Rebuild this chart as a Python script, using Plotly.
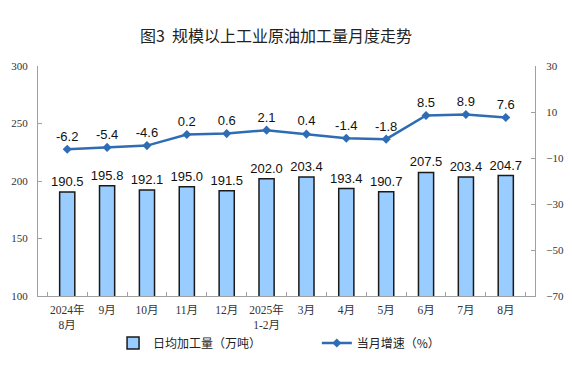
import plotly.graph_objects as go

categories = ["2024年<br>8月", "9月", "10月", "11月", "12月", "2025年<br>1-2月",
              "3月", "4月", "5月", "6月", "7月", "8月"]
daily_output = [190.5, 195.8, 192.1, 195.0, 191.5, 202.0, 203.4, 193.4, 190.7, 207.5, 203.4, 204.7]
growth = [-6.2, -5.4, -4.6, 0.2, 0.6, 2.1, 0.4, -1.4, -1.8, 8.5, 8.9, 7.6]

# page body has an 8px margin, so the figure is sized/positioned to compensate
W, H, OFF = 564, 358, 8

fig = go.Figure()
fig.add_trace(go.Bar(
    x=categories, y=daily_output, name="日均加工量（万吨）",
    marker=dict(color="#99CCFF", line=dict(color="#1a1a1a", width=1.5)),
    width=0.38,
    text=[f"{v:.1f}" for v in daily_output], textposition="outside",
    constraintext="none",
    textfont=dict(family="Liberation Sans, Arial", size=13, color="#111"),
    cliponaxis=False, legend="legend",
))
fig.add_trace(go.Scatter(
    x=categories, y=growth, name="当月增速（%）", yaxis="y2",
    mode="lines+markers+text",
    line=dict(color="#2E6DB4", width=2.5),
    marker=dict(symbol="diamond", size=7, color="#2E6DB4"),
    text=[f"{v:.1f}" for v in growth], textposition="top center",
    textfont=dict(family="Liberation Sans, Arial", size=13, color="#111"),
    cliponaxis=False, legend="legend2",
))

tickfont = dict(family="Liberation Serif, Noto Sans CJK SC", size=11.5, color="#333")
ytickfont = dict(family="Liberation Serif", size=11, color="#333")
legfont = dict(family="Noto Sans CJK SC", size=12, color="#222")
fig.update_layout(
    width=W, height=H,
    margin=dict(l=38 - OFF, r=37, t=66 - OFF, b=70, autoexpand=False),
    plot_bgcolor="white", paper_bgcolor="white",
    title=dict(text="图3  规模以上工业原油加工量月度走势", x=(276 - OFF) / W, xanchor="center",
               xref="container", yref="container",
               y=1 - (31 - OFF) / H, yanchor="top",
               font=dict(family="Noto Sans CJK SC", size=16, color="#222")),
    xaxis=dict(showline=True, linecolor="#A0A0A0", linewidth=1, automargin=False,
               ticks="inside", ticklen=4, tickcolor="#A0A0A0", tickson="boundaries",
               ticklabelstandoff=3,
               tickangle=0, tickfont=tickfont, showgrid=False),
    yaxis=dict(range=[100, 300], tickvals=[100, 150, 200, 250, 300], automargin=False,
               showline=True, linecolor="#A0A0A0", ticks="inside", ticklen=4,
               ticklabelstandoff=7,
               tickcolor="#A0A0A0", tickfont=ytickfont, showgrid=False, zeroline=False),
    yaxis2=dict(range=[-70, 30], tickvals=[-70, -50, -30, -10, 10, 30], automargin=False,
                overlaying="y", side="right",
                showline=True, linecolor="#A0A0A0", ticks="inside", ticklen=4,
                ticklabelstandoff=8,
                tickcolor="#A0A0A0", tickfont=ytickfont, showgrid=False, zeroline=False),
    legend=dict(orientation="h", x=0.151, xanchor="left", yref="container",
                y=1 - (343 - OFF) / H, yanchor="middle",
                font=legfont, bgcolor="rgba(0,0,0,0)"),
    legend2=dict(orientation="h", x=0.561, xanchor="left", yref="container",
                 y=1 - (343 - OFF) / H, yanchor="middle",
                 font=legfont, bgcolor="rgba(0,0,0,0)"),
    showlegend=True,
)

fig.write_html("out.html")
